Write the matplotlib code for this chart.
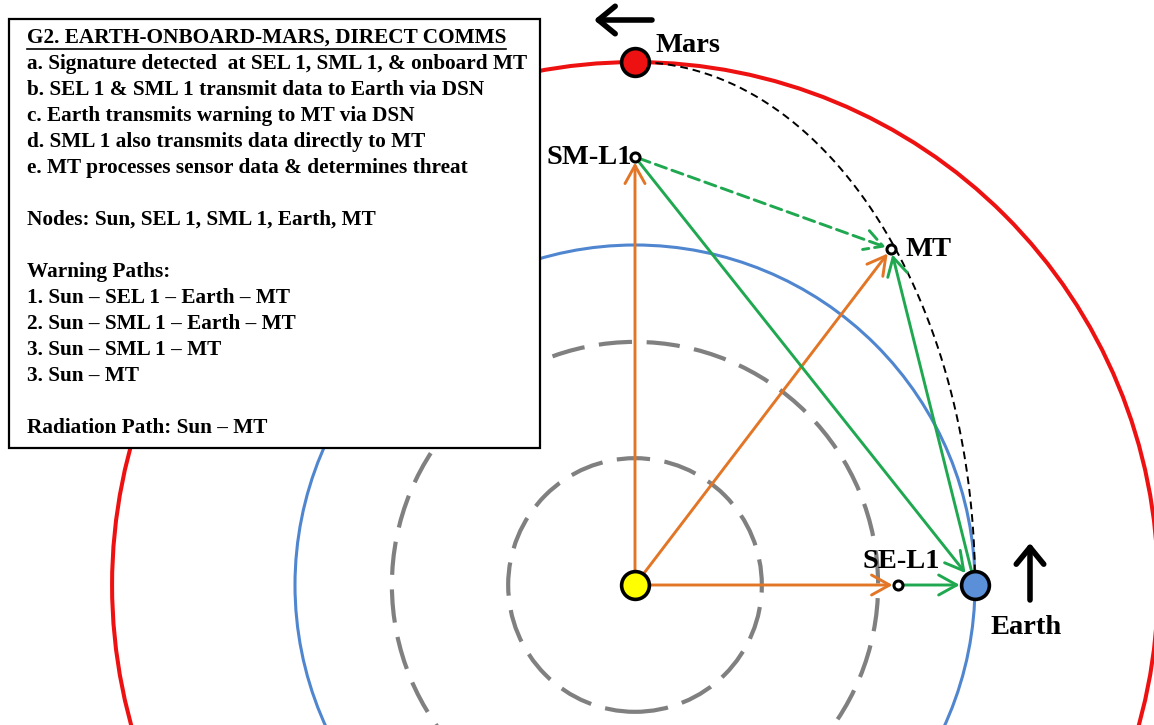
import numpy as np
import matplotlib
matplotlib.use("Agg")
import matplotlib.pyplot as plt
from matplotlib.patches import Circle, Rectangle, FancyArrowPatch

# orbit radii (Earth orbit = 1)
orbit_names = ['inner1', 'inner2', 'Earth', 'Mars']
orbit_radii = [0.373, 0.715, 1.0, 1.538]
orbit_colors = ['#808080', '#808080', '#4f86cf', '#ee1111']
orbit_styles = ['dashed', 'dashed', 'solid', 'solid']
orbit_widths = [3.0, 3.0, 2.2, 2.9]

# node positions (Sun at origin)
nodes = ['Sun', 'SE-L1', 'Earth', 'SM-L1', 'MT', 'Mars']
node_x = [0.0, 0.774, 1.0, 0.0, 0.753, 0.0]
node_y = [0.0, 0.0, 0.0, 1.259, 0.988, 1.538]

# warning links
orange_links = [('Sun', 'SM-L1'), ('Sun', 'MT'), ('Sun', 'SE-L1')]
green_links = [('SE-L1', 'Earth'), ('SM-L1', 'Earth'), ('Earth', 'MT')]
green_dashed_links = [('SM-L1', 'MT')]

box_lines = [
    'G2. EARTH-ONBOARD-MARS, DIRECT COMMS',
    'a. Signature detected  at SEL 1, SML 1, & onboard MT',
    'b. SEL 1 & SML 1 transmit data to Earth via DSN',
    'c. Earth transmits warning to MT via DSN',
    'd. SML 1 also transmits data directly to MT',
    'e. MT processes sensor data & determines threat',
    '',
    'Nodes: Sun, SEL 1, SML 1, Earth, MT',
    '',
    'Warning Paths:',
    '1. Sun \u2013 SEL 1 \u2013 Earth \u2013 MT',
    '2. Sun \u2013 SML 1 \u2013 Earth \u2013 MT',
    '3. Sun \u2013 SML 1 \u2013 MT',
    '3. Sun \u2013 MT',
    '',
    'Radiation Path: Sun \u2013 MT',
]

W, H = 1154, 725
fig = plt.figure(figsize=(W / 100, H / 100), dpi=100)
ax = fig.add_axes([0, 0, 1, 1])
scale = 340.0
ax.set_xlim(-635 / scale, (W - 635) / scale)
ax.set_ylim(-(H - 585) / scale, 585 / scale)
ax.set_aspect('equal')
ax.axis('off')

for r, c, ls, lw in zip(orbit_radii, orbit_colors, orbit_styles, orbit_widths):
    circ = Circle((0, 0), r, fill=False, color=c, lw=lw, zorder=1)
    if ls == 'dashed':
        circ.set_linestyle((0, (8, 3.5)))
    ax.add_patch(circ)

# transfer path Earth -> Mars (quarter ellipse)
t = np.linspace(0, np.pi / 2, 200)
ax.plot(orbit_radii[2] * np.cos(t), orbit_radii[3] * np.sin(t), color='black',
        lw=1.4, ls=(0, (4, 2.5)), zorder=2)

pos = {n: (x, y) for n, x, y in zip(nodes, node_x, node_y)}
shrink_end = {'SE-L1': 4, 'SM-L1': 4, 'MT': 4, 'Earth': 11, 'Sun': 0}


def link(a, b, color, dashed=False):
    arr = FancyArrowPatch(pos[a], pos[b], arrowstyle='->,head_length=0.65,head_width=0.36',
                          mutation_scale=20, color=color, lw=2.1,
                          shrinkA=0 if a == 'Sun' else 3, shrinkB=shrink_end[b],
                          linestyle=(0, (4, 2)) if dashed else '-', zorder=3)
    ax.add_patch(arr)


for a, b in orange_links:
    link(a, b, '#e37626')
for a, b in green_links:
    link(a, b, '#1fa84f')
for a, b in green_dashed_links:
    link(a, b, '#1fa84f', dashed=True)

# bodies
big = [('Sun', '#ffff00'), ('Earth', '#5b8fd8'), ('Mars', '#ee1111')]
for n, c in big:
    ax.plot(*pos[n], 'o', ms=20, mfc=c, mec='black', mew=2.6, zorder=5)
for n in ['SE-L1', 'SM-L1', 'MT']:
    ax.plot(*pos[n], 'o', ms=6.5, mfc='white', mec='black', mew=2.2, zorder=5)

lab = dict(fontfamily='Liberation Serif', fontweight='bold', fontsize=20.5, color='black', zorder=6)
ax.text((655 - 635) / scale, (585 - 45) / scale, 'Mars', ha='left', va='center', **lab)
ax.text((632 - 635) / scale, (585 - 158) / scale, 'SM-L1', ha='right', va='center', **lab)
ax.text((905 - 635) / scale, (585 - 250) / scale, 'MT', ha='left', va='center', **lab)
ax.text((901 - 635) / scale, (585 - 561) / scale, 'SE-L1', ha='center', va='center', **lab)
ax.text((1026 - 635) / scale, (585 - 627) / scale, 'Earth', ha='center', va='center', **lab)

# motion arrows
for (x0, y0), (x1, y1) in [((652, 20), (594, 20)), ((1030, 600), (1030, 543))]:
    ax.add_patch(FancyArrowPatch(((x0 - 635) / scale, (585 - y0) / scale),
                                 ((x1 - 635) / scale, (585 - y1) / scale),
                                 arrowstyle='->,head_length=0.55,head_width=0.45',
                                 mutation_scale=22, color='black', lw=4.0,
                                 shrinkA=0, shrinkB=0, zorder=6))

# text box
bx0, by0, bx1, by1 = 9, 19, 540, 448
fig.patches.append(Rectangle((bx0 / W, 1 - by1 / H), (bx1 - bx0) / W, (by1 - by0) / H,
                             transform=fig.transFigure, facecolor='white',
                             edgecolor='black', lw=1.6, zorder=7))
y = 38
step = 26
for i, line in enumerate(box_lines):
    if line:
        t_ = fig.text(27 / W, 1 - y / H, line, ha='left', va='center',
                      fontfamily='Liberation Serif', fontweight='bold', fontsize=15.3, zorder=8)
        if i == 0:
            fig.canvas.draw()
            bb = t_.get_window_extent()
            fig.add_artist(plt.Line2D([bb.x0 / W, bb.x1 / W], [(bb.y0 - 1) / H, (bb.y0 - 1) / H],
                                      transform=fig.transFigure, color='black', lw=1.2, zorder=8))
    y += step

fig.savefig('out.png', dpi=100)
